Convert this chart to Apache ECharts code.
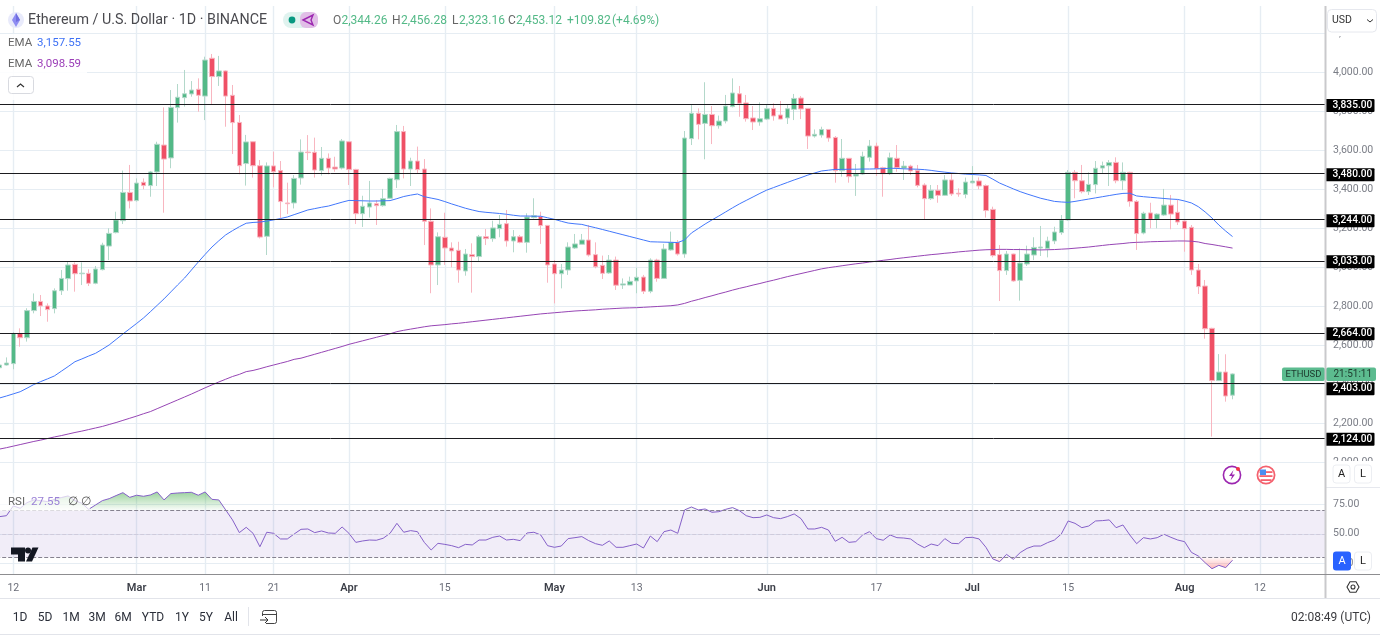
<!DOCTYPE html>
<html><head><meta charset="utf-8">
<style>html,body{margin:0;padding:0;background:#fff}#c{width:1380px;height:635px}</style>
<script src="https://cdn.jsdelivr.net/npm/echarts@6/dist/echarts.min.js"></script></head>
<body><div id="c"></div>
<script>
const FONT = 'Roboto, "Noto Sans", sans-serif';
const startDate = Date.UTC(2024, 1, 10);
const dayCount = 194;
const categories = [];
for (let i = 0; i < dayCount; i++) categories.push(new Date(startDate + i * 864e5).toISOString().slice(0, 10));

const opens = [2485,2499,2506,2661,2639,2778,2825,2802,2788,2880,2942,3015,2967,2969,2918,2988,3109,3178,3239,3384,3342,3436,3419,3489,3627,3561,3819,3870,3889,3913,3878,4072,3978,4007,3882,3743,3532,3644,3521,3159,3520,3496,3330,3330,3458,3591,3590,3496,3559,3514,3509,3644,3502,3275,3309,3326,3316,3354,3449,3696,3504,3545,3504,3236,3012,3154,3099,3087,2981,3065,3055,3157,3147,3198,3224,3135,3157,3128,3255,3260,3215,3017,2967,2986,3099,3118,3140,3065,3010,2971,3037,2909,2909,2930,2950,2877,3037,2943,3089,3128,3068,3660,3790,3738,3784,3726,3750,3824,3890,3843,3766,3745,3760,3815,3781,3766,3810,3868,3815,3673,3678,3707,3666,3495,3559,3468,3478,3564,3622,3511,3480,3559,3509,3519,3496,3422,3352,3395,3369,3448,3380,3374,3433,3443,3419,3297,3065,2983,3068,2933,3017,3063,3099,3097,3135,3178,3243,3487,3444,3388,3424,3509,3521,3538,3444,3487,3338,3176,3279,3246,3268,3319,3282,3237,3205,2986,2904,2687,2419,2463,2344.26];
const closes = [2499,2509,2661,2639,2778,2825,2802,2783,2880,2943,3012,2967,2970,2918,2991,3114,3174,3243,3384,3340,3432,3419,3489,3631,3555,3820,3872,3890,3909,3882,4063,3978,4007,3878,3742,3521,3643,3521,3155,3520,3490,3337,3326,3456,3591,3588,3499,3559,3509,3504,3648,3502,3275,3313,3330,3316,3352,3456,3696,3504,3545,3501,3236,3012,3157,3099,3084,2986,3068,3055,3157,3147,3202,3220,3135,3157,3128,3258,3265,3214,3012,2967,2986,3104,3120,3140,3063,3003,2969,3037,2908,2915,2928,2949,2877,3037,2943,3094,3128,3068,3663,3790,3733,3784,3726,3750,3827,3894,3841,3762,3745,3762,3813,3776,3760,3813,3866,3812,3673,3682,3707,3663,3495,3559,3465,3478,3569,3622,3506,3480,3562,3511,3519,3494,3420,3352,3395,3369,3448,3376,3376,3437,3442,3417,3291,3060,2983,3068,2930,3022,3068,3102,3104,3135,3181,3243,3487,3444,3388,3425,3508,3521,3537,3444,3487,3337,3173,3277,3246,3273,3319,3273,3232,3198,2986,2901,2685,2419,2463,2340,2453.12];
const highs = [2520,2538,2667,2687,2790,2866,2858,2815,2892,2986,3029,3025,3025,2990,3007,3126,3200,3285,3496,3525,3456,3456,3494,3644,3820,3909,3940,4012,3955,3969,4080,4094,4084,4010,3935,3781,3679,3646,3550,3538,3593,3545,3434,3473,3656,3678,3665,3617,3584,3567,3658,3648,3505,3367,3443,3345,3402,3460,3730,3725,3562,3619,3555,3302,3179,3280,3128,3131,3094,3123,3166,3196,3239,3268,3294,3191,3166,3277,3354,3285,3217,3037,3017,3128,3171,3171,3217,3128,3060,3063,3055,2943,2952,2998,2961,3046,3044,3120,3183,3140,3699,3832,3815,3949,3827,3778,3884,3969,3930,3884,3827,3846,3832,3841,3853,3832,3889,3878,3817,3707,3721,3709,3673,3658,3560,3530,3593,3653,3639,3516,3588,3627,3545,3526,3525,3431,3422,3422,3473,3478,3405,3460,3519,3461,3425,3311,3114,3084,3070,3097,3111,3154,3212,3157,3208,3268,3499,3499,3525,3487,3545,3542,3550,3564,3538,3490,3345,3285,3331,3277,3402,3371,3345,3240,3217,3017,2935,2690,2555,2554,2456.28];
const lows = [2473,2496,2477,2593,2619,2764,2750,2721,2764,2858,2880,2875,2909,2904,2913,2984,3037,3174,3222,3302,3337,3400,3362,3417,3280,3508,3742,3824,3875,3798,3755,3837,3930,3721,3581,3477,3419,3460,3148,3063,3410,3251,3273,3302,3424,3550,3460,3470,3477,3490,3502,3422,3222,3207,3255,3217,3311,3350,3407,3456,3417,3484,3114,2867,2909,3012,3000,2921,2957,2870,3029,3114,3131,3154,3106,3077,3123,3075,3250,3120,2921,2815,2892,2961,3094,3118,3055,2995,2940,2966,2884,2889,2909,2867,2863,2867,2926,2940,3085,3060,3049,3627,3656,3554,3632,3711,3738,3820,3772,3747,3704,3726,3755,3752,3759,3735,3755,3760,3607,3665,3665,3644,3434,3465,3434,3366,3473,3542,3468,3362,3473,3490,3448,3473,3410,3247,3345,3331,3366,3366,3362,3354,3430,3400,3255,3051,2827,2961,2926,2829,3007,3037,3058,3051,3119,3167,3239,3354,3379,3371,3379,3482,3417,3431,3396,3311,3089,3169,3200,3200,3263,3195,3217,3080,2961,2863,2634,2132,2418,2311,2323.16];

const emaBlue = [2330,2340,2351,2362,2380,2399,2414,2428,2443,2467,2491,2516,2530,2545,2559,2580,2602,2630,2658,2685,2712,2740,2772,2805,2838,2874,2910,2945,2986,3027,3066,3104,3136,3166,3188,3208,3226,3230,3232,3237,3243,3250,3258,3270,3282,3294,3301,3308,3314,3324,3334,3343,3342,3341,3340,3340,3341,3342,3352,3363,3370,3376,3362,3355,3348,3337,3325,3314,3303,3294,3286,3282,3279,3276,3272,3267,3263,3263,3262,3262,3254,3246,3236,3227,3223,3220,3211,3203,3194,3185,3176,3167,3158,3149,3140,3131,3130,3129,3128,3127,3140,3176,3199,3222,3243,3263,3284,3305,3325,3343,3361,3379,3396,3409,3422,3435,3448,3460,3473,3484,3494,3498,3502,3502,3503,3503,3504,3504,3505,3506,3508,3507,3505,3504,3503,3501,3497,3492,3488,3484,3481,3478,3476,3474,3471,3452,3432,3417,3402,3388,3376,3365,3354,3346,3338,3335,3333,3338,3344,3350,3356,3362,3368,3374,3379,3380,3366,3362,3359,3356,3353,3350,3348,3340,3330,3311,3284,3253,3217,3186,3157.55];
const emaPurple = [2068,2075,2083,2091,2099,2107,2114,2122,2130,2137,2145,2153,2160,2168,2176,2184,2194,2204,2215,2226,2237,2249,2260,2275,2290,2305,2320,2335,2350,2366,2382,2397,2412,2426,2440,2451,2465,2471,2480,2490,2499,2508,2517,2528,2534,2544,2554,2564,2574,2584,2594,2605,2614,2623,2632,2641,2650,2659,2670,2677,2683,2689,2695,2700,2703,2706,2710,2713,2717,2721,2725,2729,2733,2737,2741,2745,2749,2753,2757,2761,2764,2767,2770,2773,2776,2778,2780,2782,2785,2787,2789,2791,2792,2793,2795,2797,2799,2801,2803,2807,2815,2826,2835,2845,2854,2864,2873,2883,2892,2900,2909,2917,2926,2934,2943,2952,2960,2968,2976,2984,2992,2998,3003,3008,3013,3018,3022,3027,3031,3036,3040,3045,3049,3053,3057,3061,3065,3068,3072,3075,3079,3082,3085,3088,3090,3091,3092,3092,3091,3091,3090,3090,3089,3090,3091,3093,3095,3098,3101,3104,3108,3112,3116,3119,3122,3126,3128,3129,3131,3132,3133,3134,3135,3135,3134,3130,3122,3117,3111,3105,3098.59];
const rsi = [64.6,65.4,73.7,71.7,76.5,78.8,78.2,77.4,79.3,80.8,82.2,78.2,76,70.8,74.5,78.2,79.9,82.5,85,81,82.8,81.9,83,85.6,78.8,84.2,84.7,85,85.3,82.8,85.6,79.3,78.8,70.3,61.8,51,55.5,50.4,39,51.3,50.4,45.6,45.6,49.8,53.8,54.1,51,52.4,50.7,50.4,55.8,50.4,42.7,43.9,44.7,44.5,46.2,50.4,58.9,51.3,52.7,51.8,42.7,36.2,41.9,41,39.9,38.2,41,40.5,44.7,44.7,47,48.1,44.7,45.3,44.2,50.7,51.3,49,39.9,38.5,39.6,45.9,46.7,47.6,44.2,41.6,40.2,43.9,38.5,38.5,39.9,41.3,37.9,48.1,43.3,51.8,53.2,50.4,70.3,72.8,70.3,71.1,68.3,68.8,70.8,72.3,69.7,65.4,63.7,64,66,63.7,62.9,64.6,66.9,62.9,54.1,54.1,55.5,53.2,43.6,47,42.7,43.3,49,51.8,45.9,44.5,49,46.7,46.4,45.6,41.3,38.2,41.3,39.9,45.9,41.9,41.6,46.7,47,45.6,38.5,28.6,26.3,32.5,28.3,34,37.6,39.6,39.6,42.5,44.7,49.8,60.9,58.9,55.2,56.6,60.9,61.2,61.8,55.2,57.5,49,41.6,46.7,45.6,46.7,49.6,47,44.7,43.3,34.2,31.1,25.4,20.3,23.2,21.2,27.55];

const levels = [3835, 3480, 3244, 3033, 2664, 2403, 2124];
const priceTicks = [2000, 2200, 2400, 2600, 2800, 3000, 3200, 3400, 3600, 3800, 4000, 4200];
const rsiTicks = [25, 50, 75];
const rsiBands = [70, 50, 30];
const xTickDates = ['2024-02-12','2024-03-01','2024-03-11','2024-03-21','2024-04-01','2024-04-15','2024-05-01','2024-05-13','2024-06-01','2024-06-17','2024-07-01','2024-07-15','2024-08-01','2024-08-12'];
const xTickLabels = ['12','Mar','11','21','Apr','15','May','13','Jun','17','Jul','15','Aug','12'];
const rangeButtons = ['1D','5D','1M','3M','6M','YTD','1Y','5Y','All'];
const rangeX = [20,45,71,97,123,153,182,206,231];

const fmt = (v, d = 2) => v.toLocaleString('en-US', {minimumFractionDigits: d, maximumFractionDigits: d});
const tickIdx = xTickDates.map(d => categories.indexOf(d));
const labelByDate = {}; xTickDates.forEach((d, i) => labelByDate[d] = xTickLabels[i]);
const candleData = opens.map((o, i) => [o, closes[i], lows[i], highs[i]]);
const GRID = '#e6edf3', UP = '#53b987', DOWN = '#ef5065';

const xBase = {
  type: 'category', data: categories, boundaryGap: true,
  axisTick: {show: false, customValues: tickIdx, alignWithLabel: true},
  splitLine: {show: true, alignWithLabel: true, lineStyle: {color: GRID, width: 1.4}},
  axisLine: {show: false}
};
const T = (x, y, text, font, fill, align) => ({type: 'text', silent: true, z: 50, x, y,
  style: {text, font: font + ' ' + FONT, fill, textAlign: align || 'left', textVerticalAlign: 'middle'}});
const R = (x, y, w, h, fill, r, stroke, op, z) => ({type: 'rect', silent: true, z: z || 48, shape: {x, y, width: w, height: h, r: r || 0},
  style: {fill, stroke: stroke || null, lineWidth: stroke ? 1 : 0, opacity: op == null ? 1 : op}});
const L = (x1, y1, x2, y2, stroke, w, z) => ({type: 'line', silent: true, z: z || 47, shape: {x1, y1, x2, y2}, style: {stroke, lineWidth: w || 1}});
const C = (cx, cy, r, fill, stroke, w) => ({type: 'circle', silent: true, z: 50, shape: {cx, cy, r}, style: {fill, stroke: stroke || null, lineWidth: w || 0}});
const P = (points, fill, stroke, w) => ({type: 'polygon', silent: true, z: 51, shape: {points}, style: {fill, stroke: stroke || null, lineWidth: w || 0}});
const PL = (points, stroke, w) => ({type: 'polyline', silent: true, z: 51, shape: {points}, style: {fill: null, stroke, lineWidth: w || 1}});

const chrome = [
  R(1326, 461, 54, 23, '#fff'),
  R(1327, 26, 52, 10, '#fff'),
  R(1327.5, 9.5, 49, 22.5, '#fff', 4, '#e6e8ee'),
  T(1332, 20.5, 'USD', '10.5px', '#333'),
  PL([[1367,19.5],[1370,22],[1373,19.5]], '#333', 1),
  // separators
  L(1325.5, 6, 1325.5, 598, '#c9c9cc', 2, 49),
  L(0, 574.5, 1380, 574.5, '#8d8d90', 1, 49),
  L(0, 598.5, 1380, 598.5, '#e2e4ea', 1),
  L(0, 634.5, 1380, 634.5, '#e2e4ea', 1),
  L(1326, 487.5, 1380, 487.5, '#e6e8ee', 1),
  // header
  C(16, 20, 8, '#e8eafb'),
  P([[16,13],[20,20],[16,27],[12,20]], '#8e8cf2'),
  P([[16,13],[20,20],[16,22]], '#6f6de0'),
  T(28, 20.5, 'Ethereum / U.S. Dollar · 1D · BINANCE', '14.3px', '#4a4a4f'),
  R(283, 12, 34, 16, '#e0f3ef', 8),
  R(300, 12, 18, 16, '#e1bee7', 6),
  C(292, 20, 3.4, '#089981'),
  P([[303,20],[313,15],[311,20],[313,25]], null, '#9c27b0', 1.4),
  // OHLC
  T(333, 20.5, 'O', '12px', '#666'), T(341.5, 20.5, '2,344.26', '12px', UP),
  T(392, 20.5, 'H', '12px', '#666'), T(401, 20.5, '2,456.28', '12px', UP),
  T(452, 20.5, 'L', '12px', '#666'), T(459, 20.5, '2,323.16', '12px', UP),
  T(508, 20.5, 'C', '12px', '#666'), T(516, 20.5, '2,453.12', '12px', UP),
  T(567, 20.5, '+109.82', '12px', UP), T(612, 20.5, '(+4.69%)', '12px', UP),
  // EMA legend
  R(0, 34, 87, 66, '#fff', 0, null, 0.85),
  T(8, 43, 'EMA', '11.5px', '#666'), T(37, 43, fmt(emaBlue[emaBlue.length-1]), '11.5px', '#3f72f5'),
  T(8, 64, 'EMA', '11.5px', '#666'), T(37, 64, fmt(emaPurple[emaPurple.length-1]), '11.5px', '#9c3fb8'),
  R(8.5, 76.5, 25, 17, '#fff', 3, '#d8dae0'),
  PL([[17,87],[20.5,84],[24,87]], '#333', 1.2),
  // price tag
  R(1282, 367.5, 43, 13.5, '#5cbb8f', 2),
  R(1326, 367.5, 50, 13.5, '#5cbb8f', 2),
  T(1285.5, 374.5, 'ETHUSD', '9.5px', '#1d3a2d'),
  T(1333.5, 374.5, '21:51:11', '10px', '#1d3a2d'),
  // event icons
  C(1232, 475, 8.6, '#fff', '#9c27b0', 1.6),
  P([[1233.5,470],[1229,476],[1232,476],[1230.5,480.5],[1235,474.5],[1232,474.5]], '#9c27b0'),
  C(1238, 469, 2, '#f23645'),
  C(1266, 475, 8.6, '#fff', '#f4616e', 1.8),
  R(1259.5, 471.2, 13, 1.8, '#f4616e', 0, null, 1, 52), R(1259.5, 475.2, 13, 1.8, '#f4616e', 0, null, 1, 52), R(1260.5, 479.2, 11, 1.8, '#f4616e', 0, null, 1, 52),
  R(1260, 469.5, 6, 5.5, '#4a8df0', 0, null, 1, 53),
  // scale buttons
  R(1333, 465, 17, 18, '#fff', 3, '#eceef2'), T(1341.5, 474, 'A', '11px', '#222', 'center'),
  R(1354.5, 465, 17, 18, '#fff', 3, '#eceef2'), T(1363, 474, 'L', '11px', '#222', 'center'),
  R(1333, 551.5, 18, 19, '#2962ff', 3), T(1342, 561, 'A', '11px', '#fff', 'center'),
  R(1354.5, 552, 17, 18, '#fff', 3, '#eceef2'), T(1363, 561, 'L', '11px', '#222', 'center'),
  P([[1347,587],[1350,581.8],[1356,581.8],[1359,587],[1356,592.2],[1350,592.2]], null, '#333', 1.1),
  C(1353, 587, 2, null, '#333', 1.1),
  // RSI legend
  R(0, 493, 90, 18, '#fff', 0, null, 0.7),
  T(8, 502, 'RSI', '11.5px', '#666'), T(31, 502, fmt(rsi[rsi.length-1]), '11.5px', '#9b82d6'),
  T(68, 502, '∅', '11.5px', '#555'), T(81, 502, '∅', '11.5px', '#555'),
  // TradingView mark
  P([[11,547.5],[25,547.5],[25,561.5],[18,561.5],[18,554.5],[11,554.5]], '#131722'),
  C(28, 550.5, 3, '#131722'),
  P([[32.5,547.5],[38.5,547.5],[32,561.5],[26,561.5]], '#131722'),
  // bottom toolbar
  L(248.5, 607, 248.5, 626, '#e2e4ea', 1),
  R(262.5, 610.5, 14, 13, null, 2, '#444', 1, 50),
  L(262, 614.5, 277, 614.5, '#444', 1, 51),
  R(258, 616, 8, 9, '#fff', 0, null, 1, 51),
  L(260, 620, 268, 620, '#333', 1, 52),
  Object.assign(PL([[265,617],[268,620],[265,623]], '#333', 1), {z: 52}),
  T(1371, 617.5, '02:08:49 (UTC)', '12px', '#3a3a3e', 'right')
];
rangeButtons.forEach((b, i) => chrome.push(T(rangeX[i], 617.5, b, '12px', '#2a2e39', 'center')));

const hline = (v, color, type, w) => ({yAxis: v, lineStyle: {color, type, width: w}});

const option = {
  animation: false, backgroundColor: '#fff',
  textStyle: {fontFamily: FONT},
  grid: [
    {left: -3.8, right: 55, top: 6, height: 481, outerBoundsMode: 'none'},
    {left: -3.8, right: 55, top: 487, height: 87, outerBoundsMode: 'none'}
  ],
  xAxis: [
    Object.assign({}, xBase, {gridIndex: 0, axisLabel: {show: false}}),
    Object.assign({}, xBase, {gridIndex: 1, axisLabel: {
      show: true, interval: 0, customValues: tickIdx, margin: 9,
      formatter: v => { const l = labelByDate[v]; return /[A-Z]/.test(l) ? '{b|' + l + '}' : '{a|' + l + '}'; },
      rich: {a: {fontSize: 10.5, color: '#6a6d78', fontFamily: FONT}, b: {fontSize: 11, color: '#3c3f48', fontWeight: 600, fontFamily: FONT}}
    }})
  ],
  yAxis: [
    {type: 'value', gridIndex: 0, position: 'right', min: 1873.4, max: 4340, scale: true,
     axisLine: {show: false}, axisTick: {show: false, customValues: priceTicks},
     splitLine: {show: true, lineStyle: {color: GRID, width: 1.2}},
     axisLabel: {customValues: priceTicks, margin: 8, color: '#7a7d86', fontSize: 10.5, fontFamily: FONT, formatter: v => fmt(v)}},
    {type: 'value', gridIndex: 1, position: 'right', min: 15.8, max: 89.8,
     axisLine: {show: false}, axisTick: {show: false, customValues: rsiTicks},
     splitLine: {show: true, lineStyle: {color: GRID, width: 1.2}},
     axisLabel: {customValues: rsiTicks, margin: 8, color: '#7a7d86', fontSize: 10.5, fontFamily: FONT, formatter: v => fmt(v)}}
  ],
  series: [
    {name: 'ETHUSD', type: 'candlestick', xAxisIndex: 0, yAxisIndex: 0, data: candleData, barWidth: 5, z: 3,
     itemStyle: {color: UP, color0: DOWN, borderColor: '#b3d8ca', borderColor0: '#f8b6c0', borderWidth: 1},
     markLine: {silent: true, symbol: 'none', z: 6, animation: false,
       label: {show: true, position: 'end', distance: 0, offset: [0, 1], formatter: p => fmt(p.value), color: '#fff', backgroundColor: '#000',
               fontSize: 10.2, fontFamily: FONT, fontWeight: 500, padding: [1.5, 3, 1.5, 7.5], width: 39, borderRadius: 1},
       data: levels.map(v => {
         const d = hline(v, '#1b1b1f', 'solid', 1);
         if (v === 2403) d.label = {offset: [0, 5]};
         return d;
       })}},
    {name: 'EMA 1', type: 'line', xAxisIndex: 0, yAxisIndex: 0, data: emaBlue, showSymbol: false, z: 4,
     lineStyle: {color: '#4277fb', width: 1}},
    {name: 'EMA 2', type: 'line', xAxisIndex: 0, yAxisIndex: 0, data: emaPurple, showSymbol: false, z: 4,
     lineStyle: {color: '#9645b4', width: 1}},
    {name: 'RSI over', type: 'line', xAxisIndex: 1, yAxisIndex: 1, data: rsi.map(v => Math.max(v, 70)), showSymbol: false, z: 2,
     lineStyle: {width: 0}, areaStyle: {origin: 70, opacity: 1,
       color: {type: 'linear', x: 0, y: 0, x2: 0, y2: 1, colorStops: [{offset: 0, color: 'rgba(76,175,80,0.55)'}, {offset: 1, color: 'rgba(76,175,80,0.03)'}]}}},
    {name: 'RSI under', type: 'line', xAxisIndex: 1, yAxisIndex: 1, data: rsi.map(v => Math.min(v, 30)), showSymbol: false, z: 2,
     lineStyle: {width: 0}, areaStyle: {origin: 30, opacity: 1,
       color: {type: 'linear', x: 0, y: 0, x2: 0, y2: 1, colorStops: [{offset: 0, color: 'rgba(255,82,82,0.03)'}, {offset: 1, color: 'rgba(255,82,82,0.4)'}]}}},
    {name: 'RSI', type: 'line', xAxisIndex: 1, yAxisIndex: 1, data: rsi, showSymbol: false, z: 4,
     lineStyle: {color: '#8560c8', width: 1},
     markArea: {silent: true, itemStyle: {color: 'rgba(126,87,194,0.11)'}, data: [[{yAxis: rsiBands[0]}, {yAxis: rsiBands[2]}]]},
     markLine: {silent: true, symbol: 'none', label: {show: false},
       data: [hline(rsiBands[0], '#85828f', 'dashed', 1), hline(rsiBands[1], '#cfcbdc', 'dashed', 1), hline(rsiBands[2], '#85828f', 'dashed', 1)]}}
  ],
  graphic: {elements: chrome}
};
const chart = echarts.init(document.getElementById('c'), null, {renderer: 'canvas'});
chart.setOption(option);
</script></body></html>
